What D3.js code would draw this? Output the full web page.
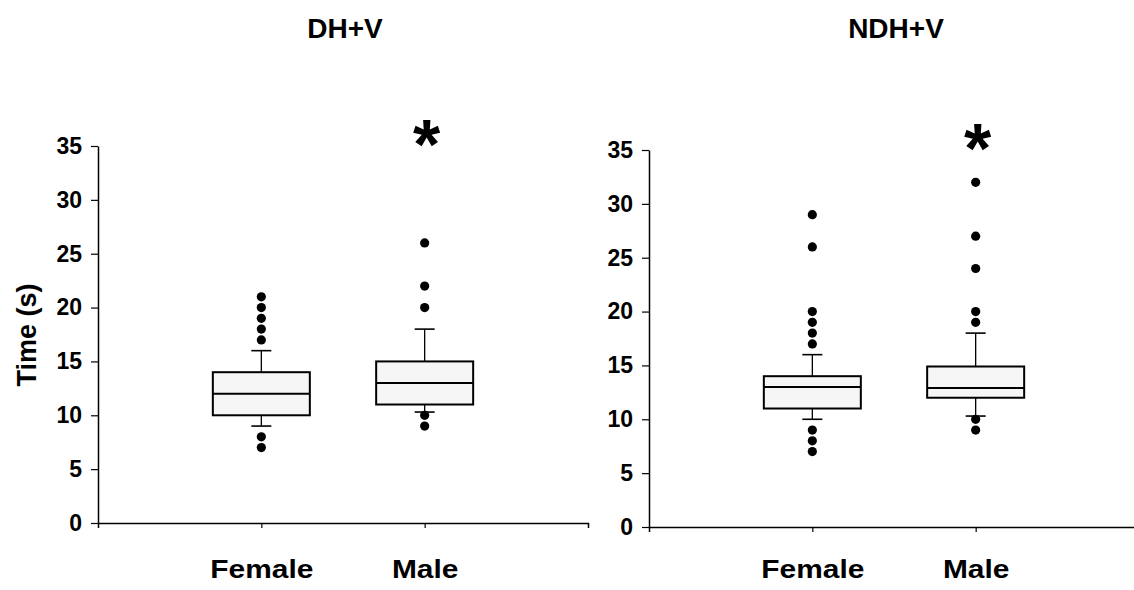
<!DOCTYPE html>
<html>
<head>
<meta charset="utf-8">
<script src="https://cdn.jsdelivr.net/npm/d3@7"></script>
<style>
  html, body { margin: 0; padding: 0; background: #fff; }
  svg { display: block; font-family: Arial, "Liberation Sans", sans-serif; }
</style>
</head>
<body>
<svg id="chart" width="1134" height="590"></svg>
<script>
// Box-plot summaries of task time (s), by sex, for two conditions.
const categories = ["Female", "Male"];
const panelTitles = ["DH+V", "NDH+V"];
const yTicks = [0, 5, 10, 15, 20, 25, 30, 35];

// [lower whisker, Q1, median, Q3, upper whisker] per category
const dhvStats = [
  [9, 10, 12, 14, 16],
  [10.3, 11, 13, 15, 18]
];
const dhvOutliers = [
  [7, 8, 17, 18, 19, 20, 21],
  [9, 10, 20, 22, 26]
];
const ndhvStats = [
  [10, 11, 13, 14, 16],
  [10.3, 12, 12.9, 14.9, 18]
];
const ndhvOutliers = [
  [7, 8, 9, 17, 18, 19, 20, 26, 29],
  [9, 10, 19, 20, 24, 27, 32]
];
// groups marked as significantly different
const significant = ["Male"];

const svg = d3.select("#chart");
const FONT = "Arial, 'Liberation Sans', sans-serif";

const panels = [
  { title: panelTitles[0], stats: dhvStats, outliers: dhvOutliers,
    x0: 98, x1: 588, yTop: 146, yBottom: 523, showYLabel: true },
  { title: panelTitles[1], stats: ndhvStats, outliers: ndhvOutliers,
    x0: 649, x1: 1139, yTop: 150, yBottom: 527, showYLabel: false }
];

panels.forEach(p => {
  const g = svg.append("g");

  const x = d3.scalePoint().domain(categories).range([p.x0, p.x1]).padding(1);
  const y = d3.scaleLinear().domain([0, 35]).range([p.yBottom, p.yTop]);
  const boxW = 97, capW = 20;

  // y axis
  const yAxis = g.append("g")
    .attr("transform", `translate(${p.x0},0)`)
    .call(d3.axisLeft(y).tickValues(yTicks).tickSize(7).tickSizeOuter(0).tickPadding(9));
  yAxis.select(".domain").attr("stroke", "#000").attr("stroke-width", 1.5);
  yAxis.selectAll(".tick line").attr("stroke", "#000").attr("stroke-width", 1.2);
  yAxis.selectAll(".tick text")
    .attr("font-size", 23).attr("font-weight", "bold").attr("fill", "#000")
    .attr("font-family", FONT);

  // x axis; category labels sit on a common baseline for both panels
  const xAxis = g.append("g")
    .attr("transform", `translate(0,${p.yBottom})`)
    .call(d3.axisBottom(x).tickSize(5).tickSizeOuter(5));
  xAxis.select(".domain").attr("stroke", "#000").attr("stroke-width", 1.5);
  xAxis.selectAll(".tick line").attr("stroke", "#000").attr("stroke-width", 1.2);
  xAxis.selectAll(".tick text")
    .attr("y", 578 - p.yBottom).attr("dy", null)
    .attr("transform", "scale(1.15,1)")
    .attr("font-size", 26).attr("font-weight", "bold").attr("fill", "#000")
    .attr("font-family", FONT);

  // panel title
  g.append("text")
    .attr("x", (p.x0 + p.x1) / 2 + 2)
    .attr("y", 38)
    .attr("text-anchor", "middle")
    .attr("font-size", 28).attr("font-weight", "bold")
    .text(p.title);

  if (p.showYLabel) {
    g.append("text")
      .attr("transform", `translate(36,335) rotate(-90)`)
      .attr("text-anchor", "middle")
      .attr("font-size", 27).attr("font-weight", "bold")
      .text("Time (s)");
  }

  categories.forEach((c, i) => {
    const [lo, q1, med, q3, hi] = p.stats[i];
    const cx = x(c);
    const bg = g.append("g");

    // whiskers
    bg.append("line").attr("x1", cx).attr("x2", cx).attr("y1", y(q3)).attr("y2", y(hi))
      .attr("stroke", "#000").attr("stroke-width", 1.3);
    bg.append("line").attr("x1", cx).attr("x2", cx).attr("y1", y(q1)).attr("y2", y(lo))
      .attr("stroke", "#000").attr("stroke-width", 1.3);
    [lo, hi].forEach(v => {
      bg.append("line").attr("x1", cx - capW / 2).attr("x2", cx + capW / 2)
        .attr("y1", y(v)).attr("y2", y(v)).attr("stroke", "#000").attr("stroke-width", 1.6);
    });

    // box
    bg.append("rect")
      .attr("x", cx - boxW / 2).attr("width", boxW)
      .attr("y", y(q3)).attr("height", y(q1) - y(q3))
      .attr("fill", "#f6f6f6").attr("stroke", "#000").attr("stroke-width", 2);
    bg.append("line")
      .attr("x1", cx - boxW / 2).attr("x2", cx + boxW / 2)
      .attr("y1", y(med)).attr("y2", y(med))
      .attr("stroke", "#000").attr("stroke-width", 2);

    // outliers
    bg.selectAll("circle.out").data(p.outliers[i]).enter().append("circle")
      .attr("class", "out")
      .attr("cx", cx).attr("cy", d => y(d)).attr("r", 4.6)
      .attr("fill", "#000");

    if (significant.includes(c)) {
      g.append("text")
        .attr("x", cx + 2).attr("y", p.yTop + 23)
        .attr("text-anchor", "middle")
        .attr("font-size", 70).attr("font-weight", "bold")
        .text("*");
    }
  });
});
</script>
</body>
</html>
